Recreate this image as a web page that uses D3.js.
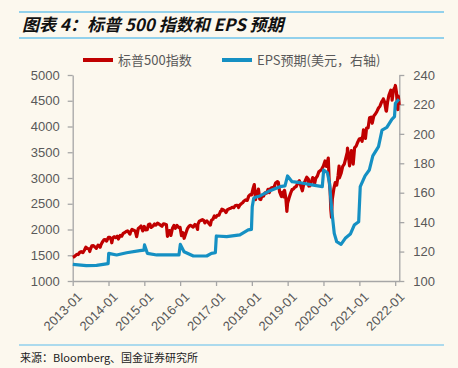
<!DOCTYPE html>
<html>
<head>
<meta charset="utf-8">
<script src="https://cdn.jsdelivr.net/npm/d3@7"></script>
<style>
	body { margin:0; background:#fcf8ee; }
	svg text { font-family: "Liberation Sans", Arial, sans-serif; }
	.cjk { font-family: "Noto Sans CJK SC", sans-serif; }
</style>
</head>
<body>
<div id=chart></div>
<script>

// S&P 500 index (left axis), roughly semi-monthly points
var spxDates = ["2013-01-02","2013-01-15","2013-01-31","2013-02-15","2013-02-28","2013-03-15","2013-03-28","2013-04-15","2013-04-30","2013-05-15","2013-05-31","2013-06-14","2013-06-24","2013-06-28","2013-07-15","2013-07-31","2013-08-15","2013-08-30","2013-09-16","2013-09-30","2013-10-08","2013-10-15","2013-10-31","2013-11-15","2013-11-29","2013-12-13","2013-12-31",
"2014-01-15","2014-01-31","2014-02-03","2014-02-14","2014-02-28","2014-03-14","2014-03-31","2014-04-11","2014-04-30","2014-05-15","2014-05-30","2014-06-13","2014-06-30","2014-07-15","2014-07-31","2014-08-07","2014-08-15","2014-08-29","2014-09-15","2014-09-30","2014-10-15","2014-10-31","2014-11-14","2014-11-28","2014-12-16","2014-12-31",
"2015-01-15","2015-01-30","2015-02-13","2015-02-27","2015-03-11","2015-03-31","2015-04-15","2015-04-30","2015-05-15","2015-05-29","2015-06-15","2015-06-30","2015-07-15","2015-07-31","2015-08-14","2015-08-25","2015-08-31","2015-09-15","2015-09-29","2015-10-15","2015-10-30","2015-11-13","2015-11-30","2015-12-15","2015-12-31",
"2016-01-15","2016-01-29","2016-02-11","2016-02-29","2016-03-15","2016-03-31","2016-04-15","2016-04-29","2016-05-13","2016-05-31","2016-06-15","2016-06-27","2016-06-30","2016-07-15","2016-07-29","2016-08-15","2016-08-31","2016-09-09","2016-09-30","2016-10-14","2016-11-04","2016-11-15","2016-11-30","2016-12-15","2016-12-30",
"2017-01-13","2017-01-31","2017-02-15","2017-02-28","2017-03-01","2017-03-15","2017-03-31","2017-04-13","2017-04-28","2017-05-15","2017-05-31","2017-06-15","2017-06-30","2017-07-14","2017-07-31","2017-08-15","2017-08-18","2017-08-31","2017-09-15","2017-09-29","2017-10-13","2017-10-31","2017-11-15","2017-11-30","2017-12-15","2017-12-29",
"2018-01-12","2018-01-26","2018-02-08","2018-02-15","2018-02-28","2018-03-09","2018-03-23","2018-04-02","2018-04-13","2018-04-30","2018-05-15","2018-05-31","2018-06-15","2018-06-29","2018-07-13","2018-07-31","2018-08-15","2018-08-31","2018-09-20","2018-09-28","2018-10-11","2018-10-29","2018-10-31","2018-11-15","2018-11-23","2018-11-30","2018-12-14","2018-12-24","2018-12-31",
"2019-01-15","2019-01-31","2019-02-15","2019-02-28","2019-03-15","2019-03-29","2019-04-15","2019-04-30","2019-05-15","2019-05-31","2019-06-14","2019-06-28","2019-07-15","2019-07-31","2019-08-05","2019-08-15","2019-08-30","2019-09-13","2019-09-30","2019-10-02","2019-10-15","2019-10-31","2019-11-15","2019-11-29","2019-12-13","2019-12-31",
"2020-01-17","2020-01-31","2020-02-19","2020-02-28","2020-03-09","2020-03-16","2020-03-23","2020-03-31","2020-04-15","2020-04-30","2020-05-15","2020-05-29","2020-06-08","2020-06-11","2020-06-30","2020-07-15","2020-07-31","2020-08-14","2020-08-31","2020-09-02","2020-09-23","2020-09-30","2020-10-12","2020-10-30","2020-11-13","2020-11-30","2020-12-15","2020-12-31",
"2021-01-15","2021-01-29","2021-02-12","2021-02-26","2021-03-04","2021-03-15","2021-03-31","2021-04-15","2021-04-30","2021-05-12","2021-05-28","2021-06-15","2021-06-30","2021-07-15","2021-07-30","2021-08-16","2021-08-31","2021-09-02","2021-09-15","2021-09-30","2021-10-04","2021-10-15","2021-10-29","2021-11-18","2021-11-30","2021-12-01","2021-12-15","2021-12-31",
"2022-01-03","2022-01-14","2022-01-27","2022-02-02","2022-02-11"];
var spxValues = [1462,1472,1498,1519,1514,1560,1569,1552,1597,1658,1631,1626,1573,1606,1682,1686,1661,1633,1697,1682,1656,1698,1757,1798,1806,1775,1848,
1848,1783,1742,1838,1859,1841,1872,1816,1884,1870,1924,1937,1960,1973,1931,1910,1955,2003,1984,1972,1862,2018,2039,2068,1973,2059,
1992,1995,2097,2105,2040,2068,2106,2086,2123,2107,2084,2063,2108,2104,2092,1868,1972,1979,1884,2024,2079,2023,2080,2043,2044,
1880,1940,1829,1932,2016,2060,2081,2065,2047,2097,2071,2001,2099,2162,2174,2190,2171,2128,2168,2133,2085,2180,2199,2262,2239,
2275,2279,2350,2364,2396,2385,2363,2329,2384,2402,2412,2432,2423,2459,2470,2464,2426,2472,2500,2519,2553,2575,2564,2648,2676,2674,
2786,2873,2581,2732,2714,2786,2588,2582,2656,2648,2711,2705,2780,2718,2801,2816,2818,2902,2931,2914,2728,2641,2712,2730,2633,2760,2600,2351,2507,
2610,2704,2776,2784,2822,2834,2907,2946,2851,2752,2887,2942,3014,2980,2844,2848,2926,3007,2977,2888,2996,3038,3120,3141,3169,3231,
3330,3226,3386,2954,2747,2386,2237,2585,2783,2912,2864,3044,3232,3002,3100,3227,3271,3373,3500,3580,3237,3363,3534,3270,3585,3622,3695,3756,
3768,3714,3934,3811,3768,3969,3973,4170,4181,4063,4204,4246,4298,4360,4395,4479,4523,4537,4480,4308,4300,4471,4605,4705,4567,4513,4709,4766,
4797,4663,4326,4589,4418];

// EPS estimate, USD (right axis)
var epsDates = ["2013-01-02","2013-05-20","2013-09-01","2013-12-28","2014-01-03","2014-03-25","2014-07-05","2014-11-15","2014-12-28","2015-01-03","2015-02-01","2015-05-08","2015-09-20","2015-12-20","2016-01-03","2016-02-10","2016-05-15","2016-09-28","2016-11-15","2016-12-25","2017-01-04","2017-04-20","2017-09-01","2017-11-25","2017-12-28","2018-01-05","2018-01-20","2018-02-05","2018-03-25","2018-07-05","2018-10-15","2018-12-05","2018-12-31","2019-02-15","2019-05-08","2019-09-20","2019-12-20","2020-01-03","2020-02-10","2020-03-03","2020-03-25","2020-04-20","2020-05-15","2020-06-28","2020-08-10","2020-10-01","2020-11-10","2020-12-25","2021-01-10","2021-02-28","2021-04-12","2021-05-18","2021-07-15","2021-08-20","2021-10-08","2021-11-28","2021-12-25","2022-01-03","2022-02-08"];
var epsValues = [111.3,110.4,110.6,111.8,118.8,117.7,119.2,120.6,121,124.5,118.8,117.7,117.7,117.7,124.9,119.9,117,117,118.8,119.2,130.6,130.1,131.3,134.7,135.1,150.5,156.2,156.9,157.8,161.4,164.1,164.6,171.4,167.5,166.8,165.2,164.1,175.4,173.6,166.4,148.3,132.4,126.7,124.9,129,131.9,138,140.3,164.1,171.4,175.4,185,191.3,202.6,204.4,209.9,211.7,220.8,223.5];

// axis ticks
var leftTicks = [1000,1500,2000,2500,3000,3500,4000,4500,5000];
var rightTicks = [100,120,140,160,180,200,220,240];
var xTickLabels = ["2013-01","2014-01","2015-01","2016-01","2017-01","2018-01","2019-01","2020-01","2021-01","2022-01"];

var parse = d3.timeParse("%Y-%m-%d");
var spx = spxDates.map(function(d, i) { return {date: parse(d), value: spxValues[i]}; });
var eps = epsDates.map(function(d, i) { return {date: parse(d), value: epsValues[i]}; });

var W = 458, H = 368;
var svg = d3.select("#chart").append("svg").attr("width", W).attr("height", H);
svg.append("rect").attr("width", W).attr("height", H).attr("fill", "#fcf8ee");

// title block
svg.append("line").attr("x1", 19).attr("x2", 444).attr("y1", 12).attr("y2", 12)
	.attr("stroke", "#92d1ec").attr("stroke-width", 2);
svg.append("line").attr("x1", 19).attr("x2", 444).attr("y1", 38).attr("y2", 38)
	.attr("stroke", "#92d1ec").attr("stroke-width", 2);
svg.append("text").attr("class", "cjk").attr("x", 22).attr("y", 31)
	.attr("font-size", 17).attr("font-weight", "bold").attr("font-style", "italic")
	.attr("fill", "#111").text("图表 4：标普 500 指数和 EPS 预期");

// source
svg.append("line").attr("x1", 19).attr("x2", 444).attr("y1", 345).attr("y2", 345)
	.attr("stroke", "#92d1ec").attr("stroke-width", 1.5);
svg.append("text").attr("class", "cjk").attr("x", 20).attr("y", 362)
	.attr("font-size", 11).attr("fill", "#222").text("来源：Bloomberg、国金证券研究所");

// scales
var x = d3.scaleTime().domain([parse("2013-01-01"), parse("2022-02-12")]).range([72.7, 399.3]);
var yL = d3.scaleLinear().domain([1000, 5000]).range([281, 75]);
var yR = d3.scaleLinear().domain([100, 240]).range([281, 75]);

var axisColor = "#a6a6a6", labelColor = "#595959";

function styleAxis(g) {
	g.select(".domain").attr("stroke", axisColor).attr("stroke-width", 1.3);
	g.selectAll(".tick line").attr("stroke", axisColor).attr("stroke-width", 1.3);
	g.selectAll(".tick text").attr("fill", labelColor).attr("font-size", 13)
		.attr("font-family", "Liberation Sans, Arial, sans-serif");
}

svg.append("g").attr("transform", "translate(72.7,0)")
	.call(d3.axisLeft(yL).tickValues(leftTicks).tickFormat(d3.format("d"))
		.tickSize(5).tickSizeOuter(0).tickPadding(8))
	.call(styleAxis);

svg.append("g").attr("transform", "translate(399.3,0)")
	.call(d3.axisRight(yR).tickValues(rightTicks).tickFormat(d3.format("d"))
		.tickSize(5).tickSizeOuter(0).tickPadding(9))
	.call(styleAxis);

var xg = svg.append("g").attr("transform", "translate(0,281)")
	.call(d3.axisBottom(x).tickValues(xTickLabels.map(function(s) { return parse(s + "-01"); }))
		.tickFormat(d3.timeFormat("%Y-%m")).tickSize(5).tickSizeOuter(0))
	.call(styleAxis);
xg.selectAll(".tick text")
	.attr("text-anchor", "end")
	.attr("dy", null)
	.attr("transform", "translate(4,11) rotate(-45)");

// lines
var lineL = d3.line().x(function(d) { return x(d.date); }).y(function(d) { return yL(d.value); });
var lineR = d3.line().x(function(d) { return x(d.date); }).y(function(d) { return yR(d.value); });

svg.append("path").datum(spx).attr("d", lineL)
	.attr("fill", "none").attr("stroke", "#c00000").attr("stroke-width", 3.2)
	.attr("stroke-linejoin", "round");
svg.append("path").datum(eps).attr("d", lineR)
	.attr("fill", "none").attr("stroke", "#1590c3").attr("stroke-width", 3.2)
	.attr("stroke-linejoin", "round");

// legend
var legend = [
	{label: "标普500指数", color: "#c00000", x: 83},
	{label: "EPS预期(美元，右轴)", color: "#1590c3", x: 222}
];
legend.forEach(function(l) {
	svg.append("line").attr("x1", l.x).attr("x2", l.x + 30).attr("y1", 60).attr("y2", 60)
		.attr("stroke", l.color).attr("stroke-width", 4);
	svg.append("text").attr("class", "cjk").attr("x", l.x + 35).attr("y", 65)
		.attr("font-size", 13).attr("fill", labelColor).text(l.label);
});

</script>
</body>
</html>
